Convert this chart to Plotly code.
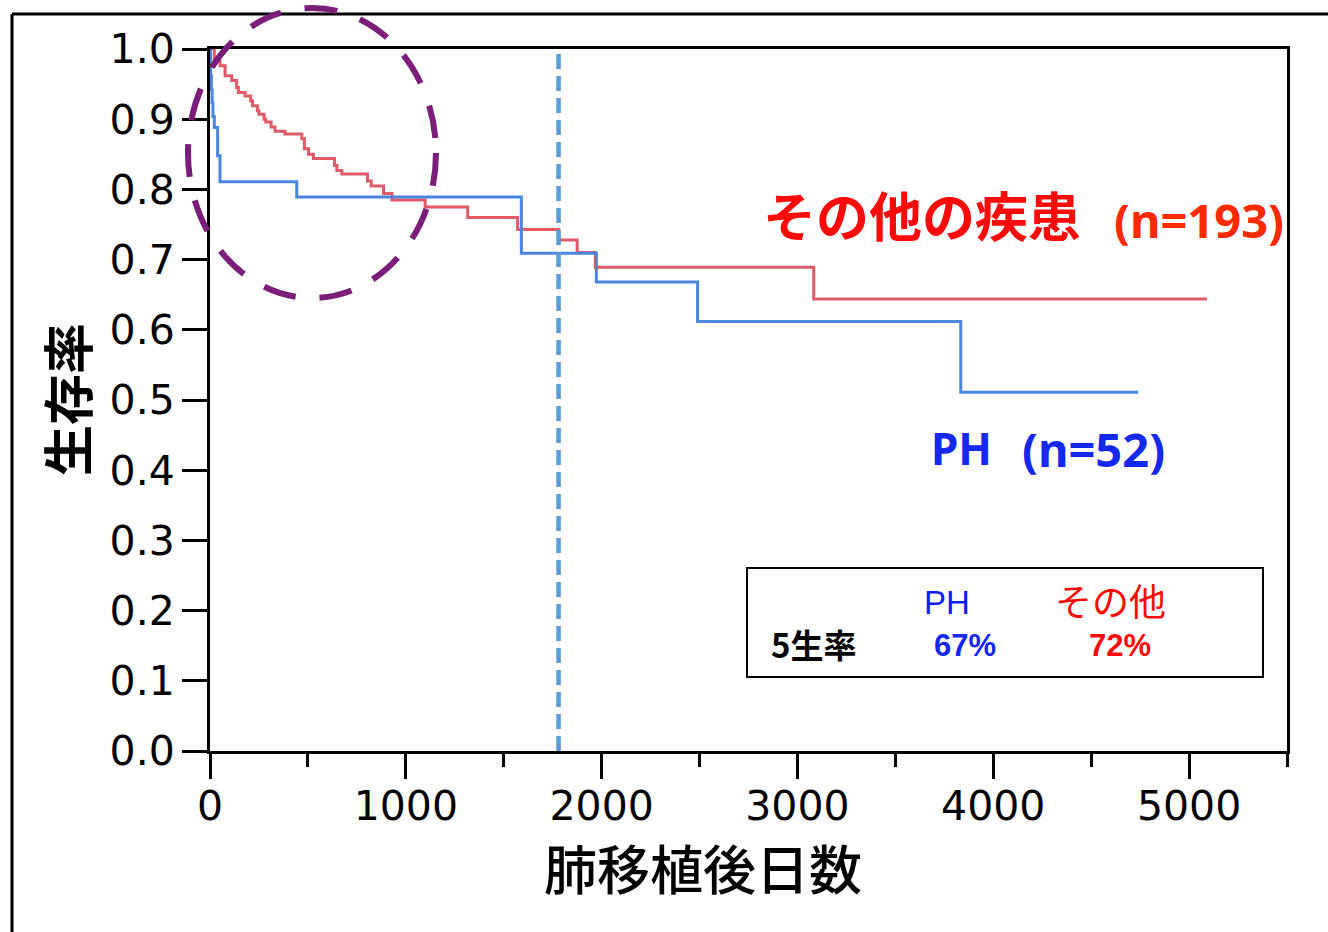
import plotly.graph_objects as go

# ---- data ----
ph_days = [0, 3, 7, 11, 15, 22, 39, 51, 443, 1590, 1973, 2490, 3834, 4740]
ph_surv = [1.0, 0.962, 0.942, 0.923, 0.904, 0.888, 0.848, 0.811, 0.789, 0.709, 0.668, 0.612, 0.511, 0.511]

other_days = [0, 22, 51, 77, 111, 136, 145, 179, 208, 217, 242, 250, 276, 285, 312, 332,
              383, 469, 482, 503, 528, 636, 648, 673, 804, 823, 886, 929, 1099, 1316,
              1571, 1781, 1875, 1968, 3083, 5092]
other_surv = [1.0, 0.983, 0.976, 0.962, 0.955, 0.945, 0.938, 0.933, 0.926, 0.919, 0.912,
              0.907, 0.900, 0.896, 0.889, 0.883, 0.879, 0.872, 0.858, 0.850, 0.844, 0.834,
              0.827, 0.822, 0.812, 0.805, 0.794, 0.785, 0.775, 0.760, 0.743, 0.728, 0.710,
              0.689, 0.644, 0.644]

five_year_day = [1780]
x_ticks = [0, 1000, 2000, 3000, 4000, 5000]
x_minor_ticks = [500, 1500, 2500, 3500, 4500, 5500]
y_ticks = [0.0, 0.1, 0.2, 0.3, 0.4, 0.5, 0.6, 0.7, 0.8, 0.9, 1.0]

# ---- layout geometry (pixels) ----
W, H = 1328, 932
L, R, T, B = 210, 1287, 49, 751


def px(x):
    return (x - L) / (R - L)


def py(y):
    return (B - y) / (B - T)


JP = "Noto Sans CJK JP"
NUM = "DejaVu Sans"

fig = go.Figure()
fig.add_trace(go.Scatter(x=other_days, y=other_surv, mode="lines", line_shape="hv",
                         line=dict(color="#E05A68", width=3), name="その他の疾患"))
fig.add_trace(go.Scatter(x=ph_days, y=ph_surv, mode="lines", line_shape="hv",
                         line=dict(color="#4A86E0", width=3), name="PH"))

axis_common = dict(showline=True, linewidth=3, linecolor="black", mirror=True,
                   ticks="outside", ticklen=25, tickwidth=3, tickcolor="black",
                   showgrid=False, zeroline=False,
                   tickfont=dict(family=NUM, size=41, color="black"))

fig.update_xaxes(range=[0, 5500], tickvals=x_ticks, ticktext=[str(v) for v in x_ticks],
                 ticklabelstandoff=-8,
                 minor=dict(tickvals=x_minor_ticks, ticks="outside", ticklen=13,
                            tickwidth=3, tickcolor="black", showgrid=False),
                 **axis_common)
fig.update_yaxes(range=[0, 1], tickvals=y_ticks, tickformat=".1f",
                 ticklabelstandoff=-1, **axis_common)

shapes = []
# outer frame (top and left lines)
shapes.append(dict(type="line", xref="paper", yref="paper", x0=px(12), x1=px(1345),
                   y0=py(14), y1=py(14), line=dict(color="black", width=3)))
shapes.append(dict(type="line", xref="paper", yref="paper", x0=px(12), x1=px(12),
                   y0=py(14), y1=py(945), line=dict(color="black", width=3)))
# 5-year dashed line
for d in five_year_day:
    shapes.append(dict(type="line", xref="x", yref="paper", x0=d, x1=d, y0=0, y1=py(52),
                       line=dict(color="#5B9BD5", width=4.5, dash="15px,7px")))
# inset box
shapes.append(dict(type="rect", xref="paper", yref="paper", x0=px(747), x1=px(1263),
                   y0=py(677), y1=py(568), line=dict(color="black", width=2),
                   fillcolor="white"))
# purple dashed ellipse
shapes.append(dict(type="circle", xref="paper", yref="paper", x0=px(188), x1=px(436),
                   y0=py(298), y1=py(8), layer="above",
                   line=dict(color="#7A1E7A", width=6, dash="33px,24px")))
fig.update_layout(shapes=shapes)

ann = []


def add(text, x, y, size, color, family=JP, weight="normal", angle=0):
    ann.append(dict(text=text, xref="paper", yref="paper", x=px(x), y=py(y),
                    xanchor="center", yanchor="middle", showarrow=False, textangle=angle,
                    font=dict(family=family, size=size, color=color, weight=weight)))


add("肺移植後日数", 703, 867, 53, "black", weight=500)
add("生存率", 66, 400, 51, "black", weight="bold", angle=-90)
add("その他の疾患", 922, 214, 53, "#FF0A0A", weight="bold")
add("(n=193)", 1199, 220, 47, "#FF2A00", family="Noto Sans", weight="bold")
add("PH", 961, 448, 44, "#1428F0", family="Noto Sans", weight="bold")
add("(n=52)", 1093, 449, 47, "#1428F0", family="Noto Sans", weight="bold")
add("PH", 947, 602, 33, "#1020F0", family="Liberation Sans")
add("その他", 1110, 600, 37, "#FF0A0A")
add("5生率", 813, 644, 33, "black", weight="bold")
add("67%", 965, 645, 31, "#1428F0", family="Liberation Sans", weight="bold")
add("72%", 1120, 645, 31, "#FF0A0A", family="Liberation Sans", weight="bold")
fig.update_layout(annotations=ann)

fig.update_layout(width=W, height=H, autosize=False,
                  margin=dict(l=L, r=W - R, t=T, b=H - B, pad=0),
                  paper_bgcolor="white", plot_bgcolor="white", showlegend=False)

fig.write_html("out.html")
